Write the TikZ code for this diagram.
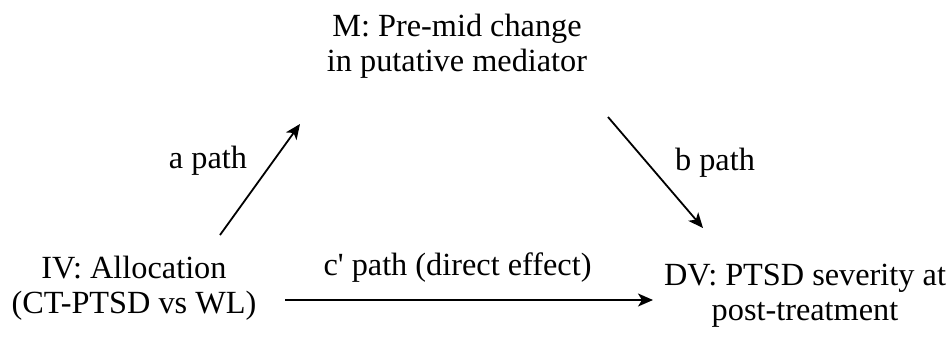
\documentclass[tikz,border=0pt]{standalone}
\usepackage{fontspec}
\setmainfont{Liberation Serif}[Ligatures=TeXOff]
\usetikzlibrary{arrows.meta}
\begin{document}
\begin{tikzpicture}[x=1pt,y=-1pt,
  txt/.style={inner sep=0pt,align=center,font=\fontsize{32.3}{35.5}\selectfont},
  lbl/.style={inner sep=0pt,anchor=base,font=\fontsize{32.3}{35.5}\selectfont},
  arr/.style={line width=1.8pt,-{Stealth[length=15pt,width=13pt,inset=4pt]}}]
\useasboundingbox (0,0) rectangle (952,338);
\node[txt] (m) at (457,46) {M: Pre-mid change\\in putative mediator};
\node[txt] (iv) at (134,288) {IV: Allocation\\(CT-PTSD vs WL)};
\node[txt] (dv) at (805,295.5) {DV: PTSD severity at\\post-treatment};
\node[lbl] (la) at (208,168) {a path};
\node[lbl] (lb) at (715,170) {b path};
\node[lbl] (lc) at (457.5,275) {c' path (direct effect)};
\coordinate (a1) at (220,235);
\coordinate (a2) at (300,124);
\coordinate (b1) at (608,117);
\coordinate (b2) at (703,228);
\coordinate (c1) at (285,300);
\coordinate (c2) at (653,300);
\draw[arr] (a1) -- (a2);
\draw[arr] (b1) -- (b2);
\draw[arr] (c1) -- (c2);
\end{tikzpicture}
\end{document}
